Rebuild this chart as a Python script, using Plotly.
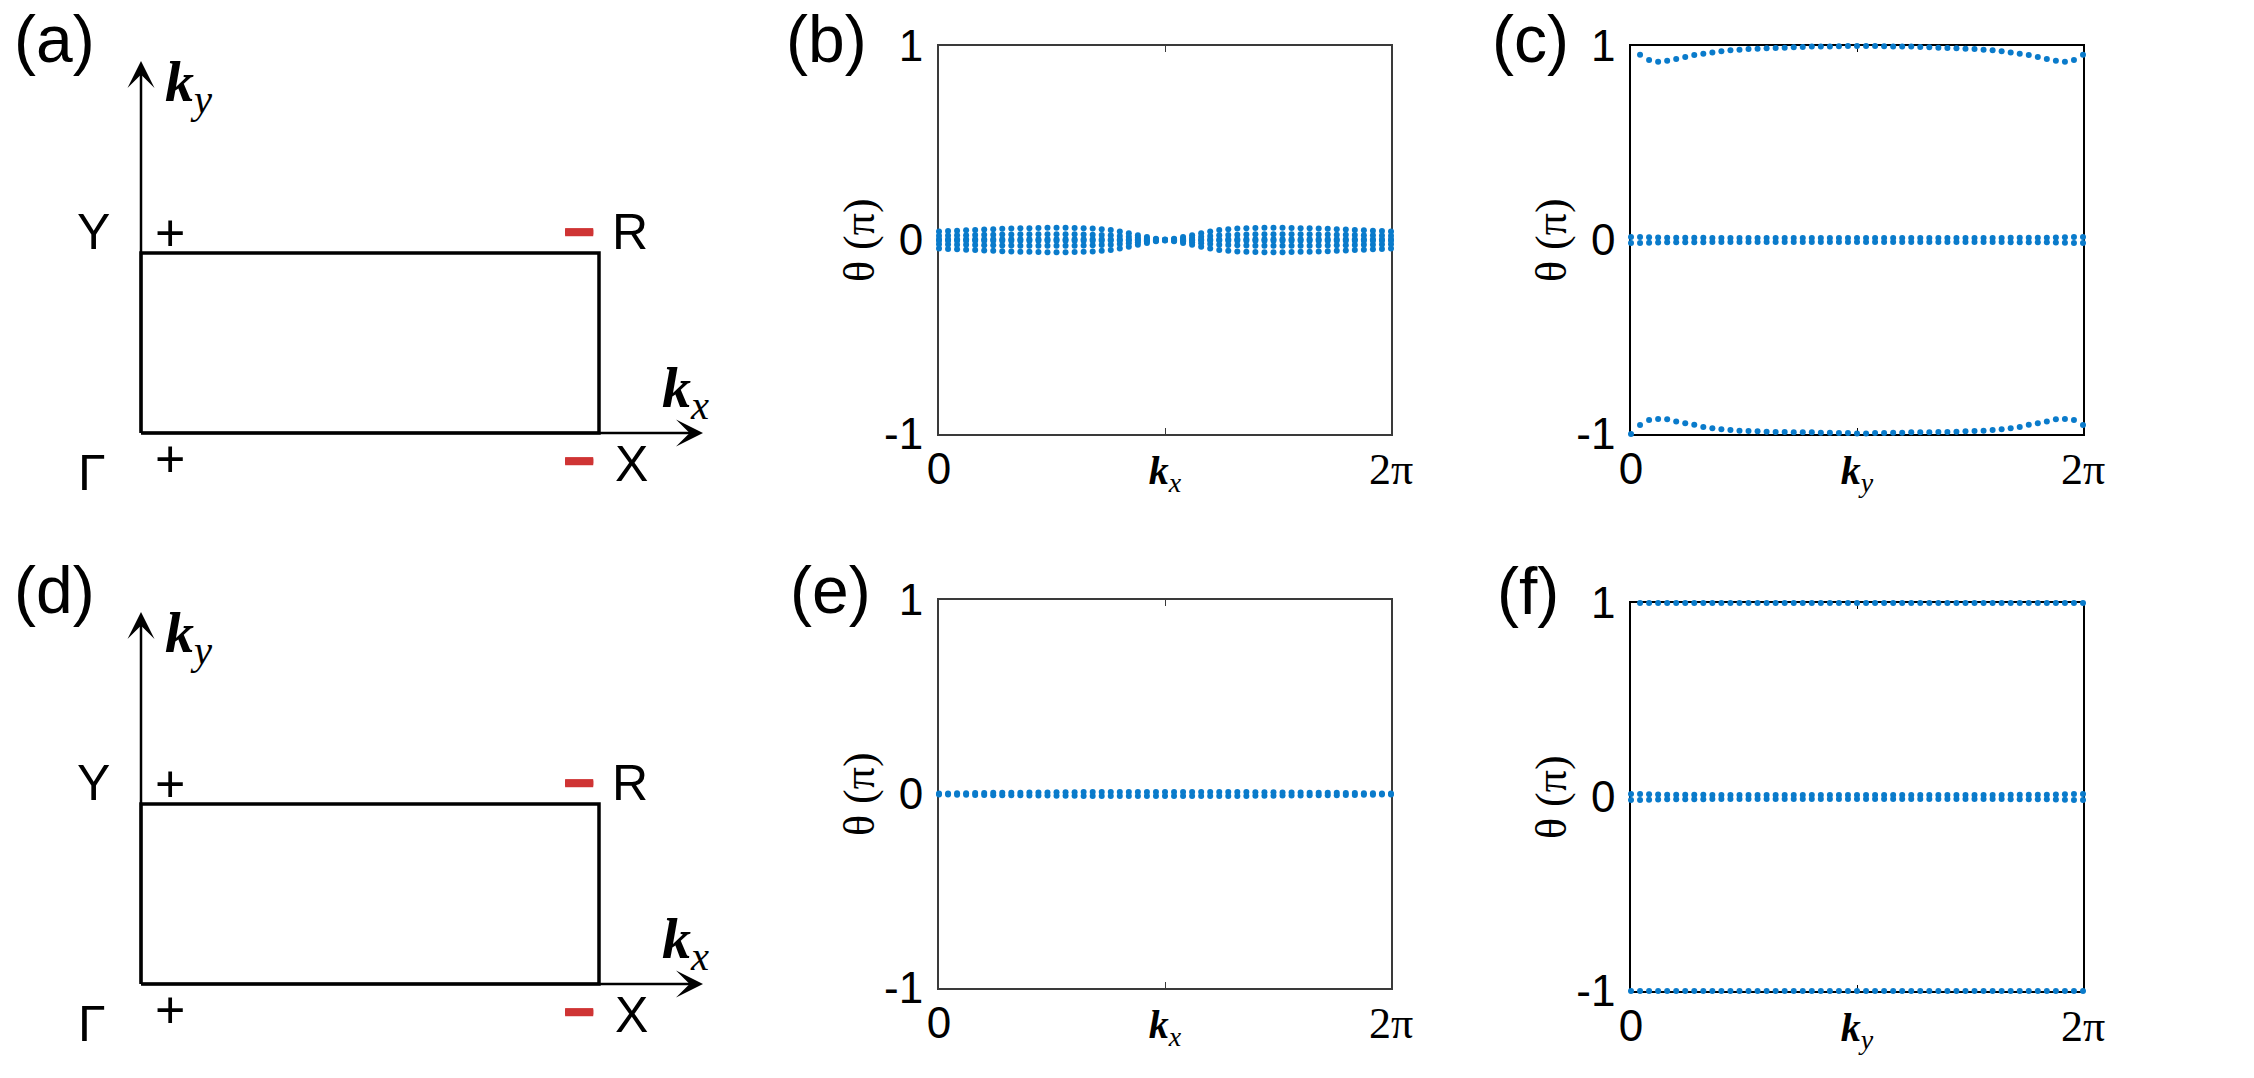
import math
import plotly.graph_objects as go

W, H = 2254, 1078
BLUE = "#0a7bcb"
RED = "#cf3434"

# k grid (51 points over one Brillouin zone)
n_k = 50
k_grid = [2 * math.pi * i / n_k for i in range(n_k + 1)]

# (b) Wilson-loop phases vs kx: symmetric pairs, values are |theta| (units of pi)
b_outer = [0.044, 0.046, 0.048, 0.050, 0.052, 0.054, 0.056, 0.058, 0.059, 0.060,
           0.061, 0.062, 0.063, 0.063, 0.063, 0.062, 0.061, 0.059, 0.056, 0.051,
           0.044, 0.035, 0.025, 0.015, 0.007, 0.002, 0.007, 0.015, 0.025, 0.035,
           0.044, 0.051, 0.056, 0.059, 0.061, 0.062, 0.063, 0.063, 0.063, 0.062,
           0.061, 0.060, 0.059, 0.058, 0.056, 0.054, 0.052, 0.050, 0.048, 0.046, 0.044]
b_mid = [0.022, 0.023, 0.024, 0.025, 0.026, 0.027, 0.027, 0.028, 0.028, 0.029,
         0.029, 0.029, 0.029, 0.029, 0.029, 0.029, 0.028, 0.027, 0.026, 0.024,
         0.021, 0.017, 0.012, 0.007, 0.003, 0.001, 0.003, 0.007, 0.012, 0.017,
         0.021, 0.024, 0.026, 0.027, 0.028, 0.029, 0.029, 0.029, 0.029, 0.029,
         0.029, 0.029, 0.028, 0.028, 0.027, 0.027, 0.026, 0.025, 0.024, 0.023, 0.022]
b_inner = [0.004, 0.004, 0.004, 0.004, 0.004, 0.004, 0.004, 0.004, 0.004, 0.004,
           0.004, 0.004, 0.004, 0.004, 0.004, 0.004, 0.004, 0.004, 0.004, 0.003,
           0.003, 0.002, 0.002, 0.001, 0.001, 0.000, 0.001, 0.001, 0.002, 0.002,
           0.003, 0.003, 0.004, 0.004, 0.004, 0.004, 0.004, 0.004, 0.004, 0.004,
           0.004, 0.004, 0.004, 0.004, 0.004, 0.004, 0.004, 0.004, 0.004, 0.004, 0.004]

# (c) Wilson-loop phases vs ky
c_top = [0.955, 0.928, 0.919, 0.924, 0.933, 0.943, 0.954, 0.960, 0.967, 0.973,
         0.978, 0.981, 0.985, 0.986, 0.988, 0.990, 0.991, 0.993, 0.995, 0.997,
         0.997, 0.998, 0.999, 1.000, 1.000, 1.000, 1.000, 0.999, 0.998, 0.997,
         0.997, 0.995, 0.993, 0.991, 0.990, 0.988, 0.986, 0.985, 0.981, 0.978,
         0.973, 0.967, 0.960, 0.954, 0.943, 0.933, 0.924, 0.919, 0.928, 0.955]  # k index 1..50
c_bottom = [-1.000, -0.954, -0.928, -0.923, -0.924, -0.936, -0.945, -0.952, -0.964, -0.971,
            -0.976, -0.979, -0.983, -0.985, -0.986, -0.988, -0.990, -0.990, -0.991, -0.991,
            -0.991, -0.993, -0.993, -0.995, -0.995, -0.997, -0.997, -0.995, -0.995, -0.993,
            -0.993, -0.991, -0.991, -0.991, -0.990, -0.990, -0.988, -0.986, -0.985, -0.983,
            -0.979, -0.976, -0.971, -0.964, -0.952, -0.945, -0.936, -0.924, -0.923, -0.928, -0.954]
c_center = [0.016, 0.015, 0.014, 0.013, 0.012, 0.012, 0.011, 0.011, 0.011, 0.010,
            0.010, 0.010, 0.010, 0.010, 0.010, 0.010, 0.010, 0.010, 0.010, 0.010,
            0.010, 0.010, 0.010, 0.010, 0.010, 0.010, 0.010, 0.010, 0.010, 0.010,
            0.010, 0.010, 0.010, 0.010, 0.010, 0.010, 0.010, 0.010, 0.010, 0.010,
            0.010, 0.010, 0.011, 0.011, 0.011, 0.012, 0.012, 0.013, 0.014, 0.015, 0.016]

# (e) phases vs kx: single degenerate band at 0
e_center = [0.003, 0.003, 0.004, 0.004, 0.005, 0.005, 0.006, 0.006, 0.007, 0.007,
            0.008, 0.008, 0.008, 0.009, 0.009, 0.009, 0.010, 0.010, 0.010, 0.010,
            0.010, 0.010, 0.010, 0.010, 0.010, 0.010, 0.010, 0.010, 0.010, 0.010,
            0.010, 0.010, 0.010, 0.010, 0.010, 0.009, 0.009, 0.009, 0.008, 0.008,
            0.008, 0.007, 0.007, 0.006, 0.006, 0.005, 0.005, 0.004, 0.004, 0.003, 0.003]

# (f) phases vs ky
f_top = [1.000, 1.000, 1.000, 1.000, 1.000, 1.000, 1.000, 1.000, 1.000, 1.000,
         1.000, 1.000, 1.000, 1.000, 1.000, 1.000, 1.000, 1.000, 1.000, 1.000,
         1.000, 1.000, 1.000, 1.000, 1.000, 1.000, 1.000, 1.000, 1.000, 1.000,
         1.000, 1.000, 1.000, 1.000, 1.000, 1.000, 1.000, 1.000, 1.000, 1.000,
         1.000, 1.000, 1.000, 1.000, 1.000, 1.000, 1.000, 1.000, 1.000, 1.000]  # k index 1..50
f_bottom = [-1.000, -1.000, -1.000, -1.000, -1.000, -1.000, -1.000, -1.000, -1.000, -1.000,
            -1.000, -1.000, -1.000, -1.000, -1.000, -1.000, -1.000, -1.000, -1.000, -1.000,
            -1.000, -1.000, -1.000, -1.000, -1.000, -1.000, -1.000, -1.000, -1.000, -1.000,
            -1.000, -1.000, -1.000, -1.000, -1.000, -1.000, -1.000, -1.000, -1.000, -1.000,
            -1.000, -1.000, -1.000, -1.000, -1.000, -1.000, -1.000, -1.000, -1.000, -1.000, -1.000]
f_center = [0.016, 0.015, 0.014, 0.013, 0.012, 0.012, 0.011, 0.011, 0.011, 0.010,
            0.010, 0.010, 0.010, 0.010, 0.010, 0.010, 0.010, 0.010, 0.010, 0.010,
            0.010, 0.010, 0.010, 0.010, 0.010, 0.010, 0.010, 0.010, 0.010, 0.010,
            0.010, 0.010, 0.010, 0.010, 0.010, 0.010, 0.010, 0.010, 0.010, 0.010,
            0.010, 0.010, 0.011, 0.011, 0.011, 0.012, 0.012, 0.013, 0.014, 0.015, 0.016]

# Brillouin-zone schematic (a), (d): corners and parity signs
bz_names = ["Γ", "X", "R", "Y"]
bz_kx = [0, 1, 1, 0]
bz_ky = [0, 0, 1, 1]
bz_parity = ["+", "−", "−", "+"]

y_ticks = [-1, 0, 1]
y_ticktext = ["-1", "0", "1"]

SERIF = "Liberation Serif"
SANS = "Liberation Sans"


def k_tick(sub):
    return ("<span style='font-family:%s;font-size:40px'><b><i>k</i></b><sub><i>%s</i></sub></span>"
            % (SERIF, sub))


fig = go.Figure()


def dots(x, y, ax):
    fig.add_trace(go.Scatter(x=x, y=y, mode="markers", xaxis="x" + ax, yaxis="y" + ax,
                             marker=dict(size=6, color=BLUE, line=dict(width=0)),
                             cliponaxis=False, hoverinfo="skip", showlegend=False))


# (b)
for band in (b_outer, b_mid, b_inner):
    dots(k_grid, band, "")
    dots(k_grid, [-v for v in band], "")
# (c)
dots(k_grid[1:], c_top, "2")
dots(k_grid, c_bottom, "2")
dots(k_grid, c_center, "2")
dots(k_grid, [-v for v in c_center], "2")
# (e)
dots(k_grid, e_center, "3")
dots(k_grid, [-v for v in e_center], "3")
# (f)
dots(k_grid[1:], f_top, "4")
dots(k_grid, f_bottom, "4")
dots(k_grid, f_center, "4")
dots(k_grid, [-v for v in f_center], "4")

# schematic rectangles
for ax in ("5", "6"):
    fig.add_trace(go.Scatter(x=bz_kx + bz_kx[:1], y=bz_ky + bz_ky[:1], mode="lines",
                             xaxis="x" + ax, yaxis="y" + ax,
                             line=dict(color="black", width=3.5),
                             hoverinfo="skip", showlegend=False))

# pixel boxes of the data panels: (left, right, top, bottom)
boxes = {"": (939, 1391, 46, 434), "2": (1631, 2083, 46, 434),
         "3": (939, 1391, 600, 988), "4": (1631, 2083, 603, 991)}

layout = dict(width=W, height=H, margin=dict(l=0, r=0, t=0, b=0, autoexpand=False),
              paper_bgcolor="white", plot_bgcolor="white", showlegend=False,
              font=dict(family=SANS, color="black"))

for ax, (l, r, t, b) in boxes.items():
    thin = ax in ("2", "4")
    lc = "black" if thin else "#3a3a3a"
    lw = 1.5 if thin else 2
    sub = "y" if thin else "x"
    layout["xaxis" + ax] = dict(
        domain=[l / W, r / W], anchor="y" + ax, range=[0, 2 * math.pi], automargin=False,
        tickvals=[0, math.pi, 2 * math.pi],
        ticktext=["0", k_tick(sub), "<span style='font-family:%s'>2π</span>" % SERIF],
        ticks="inside", ticklen=6, tickcolor=lc, tickwidth=1,
        showline=True, linecolor=lc, linewidth=lw, mirror="ticks",
        showgrid=False, zeroline=False, layer="below traces",
        tickfont=dict(family=SANS, size=44, color="black"), ticklabelstandoff=-5)
    layout["yaxis" + ax] = dict(
        domain=[1 - b / H, 1 - t / H], anchor="x" + ax, range=[-1, 1], automargin=False,
        tickvals=y_ticks, ticktext=y_ticktext,
        ticks="inside", ticklen=0, tickcolor=lc,
        showline=True, linecolor=lc, linewidth=lw, mirror=True,
        showgrid=False, zeroline=False, layer="below traces",
        tickfont=dict(family=SANS, size=44, color="black"), ticklabelstandoff=5)

# schematic axes: rectangle corner pixel positions Γ=(141,433), R=(599,253)
sx, sy = 458, 180
for ax, (top, bot, gy) in {"5": (0, 540, 433), "6": (551, H, 984)}.items():
    layout["xaxis" + ax] = dict(domain=[0, 760 / W], anchor="y" + ax, visible=False,
                                automargin=False, range=[(0 - 141) / sx, (760 - 141) / sx])
    layout["yaxis" + ax] = dict(domain=[1 - bot / H, 1 - top / H], anchor="x" + ax,
                                visible=False, automargin=False,
                                range=[(gy - bot) / sy, (gy - top) / sy])

annotations = []

# panel tags (top-anchored)
for tag, (px, py) in {"(a)": (54, 0), "(b)": (826, 0), "(c)": (1530, 0),
                      "(d)": (54, 551), "(e)": (830, 551), "(f)": (1528, 552)}.items():
    annotations.append(dict(text=tag, x=px / W, y=1 - py / H, xref="paper", yref="paper",
                            showarrow=False, xanchor="center", yanchor="top",
                            font=dict(family=SANS, size=66)))

# y-axis titles
for ax, (l, r, t, b) in boxes.items():
    annotations.append(dict(text="θ (π)", x=(l - 80) / W, y=1 - (t + b) / 2 / H,
                            xref="paper", yref="paper", showarrow=False, textangle=-90,
                            xanchor="center", yanchor="middle",
                            font=dict(family=SERIF, size=44)))

name_shift = {"Γ": (-49, -40), "X": (32, -31), "R": (31, 21), "Y": (-48, 21)}
sign_shift = {"Γ": (29, -26), "X": (-20, -27), "R": (-20, 22), "Y": (29, 20)}
ky_tip = (433 - 61) / sy
kx_tip = (703 - 141) / sx

for ax in ("5", "6"):
    xr, yr = "x" + ax, "y" + ax
    # coordinate arrows
    for (hx, hy) in ((0, ky_tip), (kx_tip, 0)):
        annotations.append(dict(x=hx, y=hy, ax=0, ay=0, xref=xr, yref=yr, axref=xr, ayref=yr,
                                text="", showarrow=True, arrowhead=3, arrowsize=1.8,
                                arrowwidth=2.5, arrowcolor="black", standoff=0))
    annotations.append(dict(x=0, y=ky_tip, xref=xr, yref=yr, showarrow=False,
                            xshift=48, yshift=-24,
                            text="<b><i>k</i></b><sub><i>y</i></sub>",
                            font=dict(family=SERIF, size=58)))
    annotations.append(dict(x=kx_tip, y=0, xref=xr, yref=yr, showarrow=False,
                            xshift=-18, yshift=42,
                            text="<b><i>k</i></b><sub><i>x</i></sub>",
                            font=dict(family=SERIF, size=58)))
    for name, kx, ky, sgn in zip(bz_names, bz_kx, bz_ky, bz_parity):
        dx, dy = name_shift[name]
        annotations.append(dict(x=kx, y=ky, xref=xr, yref=yr, showarrow=False,
                                xshift=dx, yshift=dy, text=name,
                                font=dict(family=SANS, size=50)))
        dx, dy = sign_shift[name]
        red = sgn == "−"
        annotations.append(dict(x=kx, y=ky, xref=xr, yref=yr, showarrow=False,
                                xshift=dx, yshift=dy, text=sgn,
                                font=dict(family=SANS, size=56 if red else 52,
                                          color=RED if red else "black",
                                          weight="bold" if red else "normal",
                                          shadow=("0 1px 0 %s, 0 -1px 0 %s" % (RED, RED)) if red else "none")))

layout["annotations"] = annotations
fig.update_layout(**layout)
# drop the browser's default 8px body margin so the figure sits at the page origin
fig.write_html("out.html", config={"displayModeBar": False},
               post_script="document.body.style.margin = '0px';")
